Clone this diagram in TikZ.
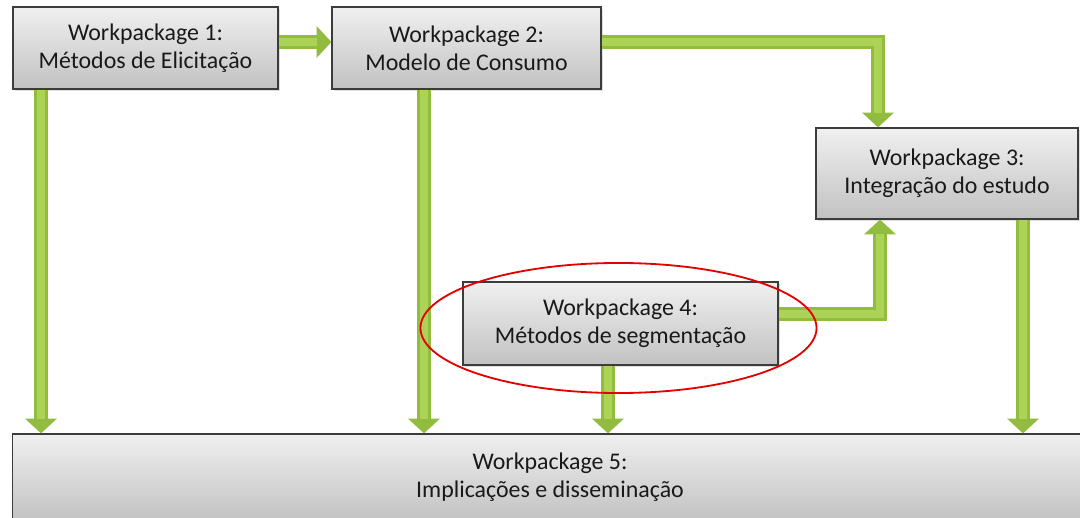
\documentclass[tikz,border=0pt]{standalone}
\usepackage{fontspec}
\setmainfont{Carlito}
\usetikzlibrary{arrows.meta,shadows,calc}
\definecolor{wpgreen}{RGB}{146,188,64}
\definecolor{wplight}{RGB}{172,210,86}
\definecolor{wpline}{RGB}{60,60,60}
\tikzset{
  wpbox/.style={draw=wpline, line width=0.8pt, top color=black!6, bottom color=black!24,
    align=center, font=\fontsize{17}{20}\selectfont, text=black!90, inner sep=0pt,
    drop shadow={opacity=0.25, shadow xshift=1.2pt, shadow yshift=-1.2pt}},
  wparrow/.style={wpgreen, line width=10.6pt, line join=miter, -{Triangle[width=22pt,length=10.5pt]}},
  wpshine/.style={wplight, line width=6pt, line join=miter, shorten >=10.5pt},
}
\begin{document}
\begin{tikzpicture}[x=0.025cm, y=-0.025cm]
    \useasboundingbox (0,0) rectangle (1080,518);
    \clip (0,0) rectangle (1080,518);

    \node[wpbox, minimum width=6.625cm, minimum height=2.05cm] (wp1) at (145.5,48) {Workpackage 1:\\Métodos de Elicitação};
    \node[wpbox, minimum width=6.725cm, minimum height=2.05cm] (wp2) at (466.5,48) {Workpackage 2:\\Modelo de Consumo};
    \node[wpbox, minimum width=6.55cm, minimum height=2.275cm] (wp3) at (947,173.5) {Workpackage 3:\\Integração do estudo};
    \node[wpbox, minimum width=7.875cm, minimum height=2.075cm] (wp4) at (620.5,323.5) {Workpackage 4:\\Métodos de segmentação};
    \node[wpbox, minimum width=26.85cm, minimum height=2.175cm] (wp5) at (550,477.5) {Workpackage 5:\\Implicações e disseminação};

    \foreach \n/\x in {wp1/41, wp2/424, wp4/608, wp3/1023}
      \foreach \s in {wparrow,wpshine}
        \draw[\s] (\x,0 |- \n.south) -- (\x,0 |- wp5.north);

    \foreach \s in {wparrow,wpshine} {
      \draw[\s] ($(wp1.east)+(0,-6)$) -- ($(wp2.west)+(0,-6)$);
      \draw[\s] ($(wp2.east)+(0,-6)$) -| (878,0 |- wp3.north);
      \draw[\s] ($(wp4.east)+(0,-9.5)$) -| (880,0 |- wp3.south);
    };

    \draw[red!90!black, line width=1.3pt] ($(wp4.center)+(-2,4.5)$) ellipse [x radius=4.95cm, y radius=1.625cm];
\end{tikzpicture}
\end{document}
